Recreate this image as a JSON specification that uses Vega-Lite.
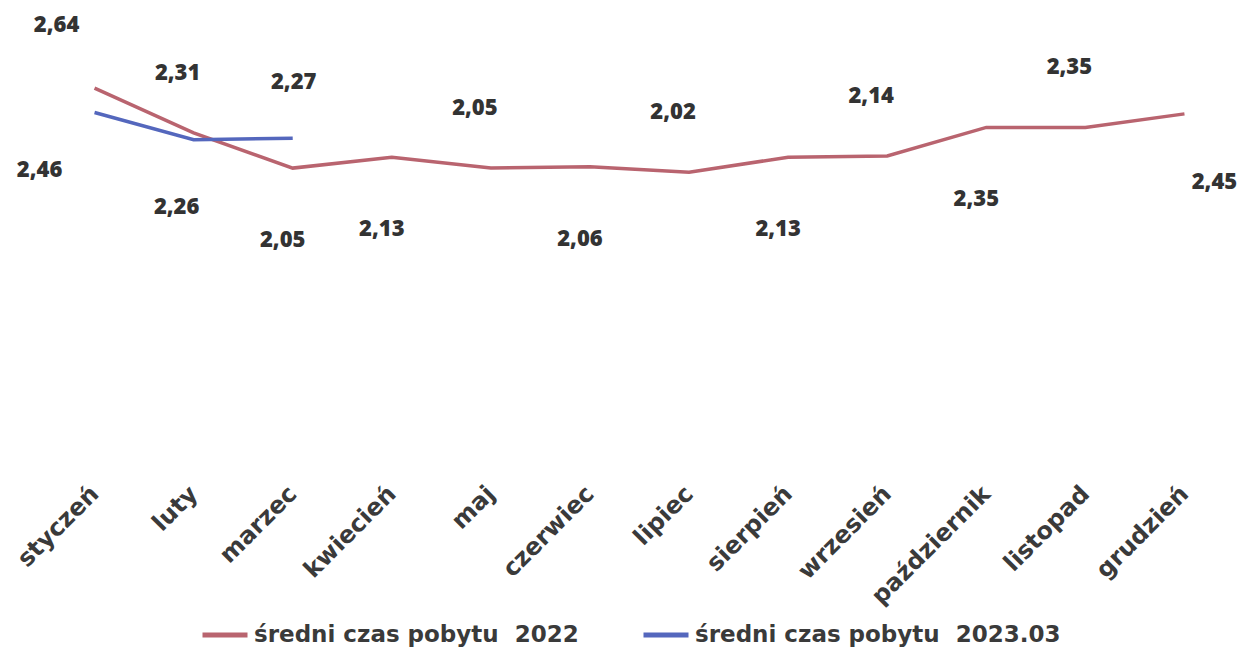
{
  "$schema": "https://vega.github.io/schema/vega-lite/v6.json",
  "autosize": {"type": "none"},
  "width": 1189,
  "height": 446,
  "padding": {"left": 45, "top": 0, "right": 18, "bottom": 205},
  "background": "white",
  "config": {
    "view": {"stroke": null},
    "text": {"font": "Open Sans", "fontWeight": 800, "fontSize": 22, "color": "#333333", "align": "center", "baseline": "middle"}
  },
  "data": {
    "values": [
      {"month": "styczeń", "series": "średni czas pobytu \u00a02022", "value": 2.64},
      {"month": "luty", "series": "średni czas pobytu \u00a02022", "value": 2.31},
      {"month": "marzec", "series": "średni czas pobytu \u00a02022", "value": 2.05},
      {"month": "kwiecień", "series": "średni czas pobytu \u00a02022", "value": 2.13},
      {"month": "maj", "series": "średni czas pobytu \u00a02022", "value": 2.05},
      {"month": "czerwiec", "series": "średni czas pobytu \u00a02022", "value": 2.06},
      {"month": "lipiec", "series": "średni czas pobytu \u00a02022", "value": 2.02},
      {"month": "sierpień", "series": "średni czas pobytu \u00a02022", "value": 2.13},
      {"month": "wrzesień", "series": "średni czas pobytu \u00a02022", "value": 2.14},
      {"month": "październik", "series": "średni czas pobytu \u00a02022", "value": 2.35},
      {"month": "listopad", "series": "średni czas pobytu \u00a02022", "value": 2.35},
      {"month": "grudzień", "series": "średni czas pobytu \u00a02022", "value": 2.45},
      {"month": "styczeń", "series": "średni czas pobytu \u00a02023.03", "value": 2.46},
      {"month": "luty", "series": "średni czas pobytu \u00a02023.03", "value": 2.26},
      {"month": "marzec", "series": "średni czas pobytu \u00a02023.03", "value": 2.27}
    ]
  },
  "encoding": {
    "x": {
      "field": "month", "type": "nominal",
      "sort": ["styczeń", "luty", "marzec", "kwiecień", "maj", "czerwiec", "lipiec", "sierpień", "wrzesień", "październik", "listopad", "grudzień"],
      "scale": {"type": "point", "padding": 0.5},
      "axis": {"title": null, "domain": false, "ticks": false, "grid": false, "labelAngle": -45, "labelAlign": "right", "labelBaseline": "middle", "labelPadding": 44, "labelFont": "DejaVu Sans", "labelFontWeight": "bold", "labelFontSize": 24, "labelColor": "#3a3a3a"}
    },
    "y": {"field": "value", "type": "quantitative", "scale": {"domain": [0, 3.29], "nice": false, "zero": false}, "axis": null}
  },
  "layer": [
    {
      "mark": {"type": "line", "strokeWidth": 3.5},
      "encoding": {
        "color": {
          "field": "series", "type": "nominal",
          "scale": {"domain": ["średni czas pobytu \u00a02022", "średni czas pobytu \u00a02023.03"], "range": ["#b9646f", "#5467bd"]},
          "legend": {"title": null, "orient": "none", "legendX": 155, "legendY": 610, "direction": "horizontal", "symbolType": "stroke", "symbolSize": 2025, "symbolStrokeWidth": 5, "labelFont": "DejaVu Sans", "labelFontWeight": "bold", "labelFontSize": 23, "labelColor": "#3a3a3a", "columnPadding": 54, "labelOffset": 4, "labelLimit": 500}
        }
      }
    },
    {
      "transform": [{"filter": {"and": [{"field": "series", "equal": "średni czas pobytu \u00a02022"}, {"field": "month", "oneOf": ["luty", "maj", "lipiec", "wrzesień", "listopad"]}]}}],
      "mark": {"type": "text", "dx": -16, "dy": -60},
      "encoding": {"text": {"field": "value", "type": "quantitative", "format": ".2f"}}
    },
    {
      "transform": [{"filter": {"and": [{"field": "series", "equal": "średni czas pobytu \u00a02022"}, {"field": "month", "oneOf": ["marzec", "kwiecień", "czerwiec", "sierpień", "październik"]}]}}],
      "mark": {"type": "text", "dx": -10, "dy": 72},
      "encoding": {"text": {"field": "value", "type": "quantitative", "format": ".2f"}}
    },
    {
      "transform": [{"filter": {"and": [{"field": "series", "equal": "średni czas pobytu \u00a02022"}, {"field": "month", "equal": "styczeń"}]}}],
      "mark": {"type": "text", "dx": -38, "dy": -63},
      "encoding": {"text": {"field": "value", "type": "quantitative", "format": ".2f"}}
    },
    {
      "transform": [{"filter": {"and": [{"field": "series", "equal": "średni czas pobytu \u00a02022"}, {"field": "month", "equal": "grudzień"}]}}],
      "mark": {"type": "text", "dx": 30, "dy": 68},
      "encoding": {"text": {"field": "value", "type": "quantitative", "format": ".2f"}}
    },
    {
      "transform": [{"filter": {"and": [{"field": "series", "equal": "średni czas pobytu \u00a02023.03"}, {"field": "month", "equal": "styczeń"}]}}],
      "mark": {"type": "text", "dx": -55, "dy": 57},
      "encoding": {"text": {"field": "value", "type": "quantitative", "format": ".2f"}}
    },
    {
      "transform": [{"filter": {"and": [{"field": "series", "equal": "średni czas pobytu \u00a02023.03"}, {"field": "month", "equal": "luty"}]}}],
      "mark": {"type": "text", "dx": -17, "dy": 67},
      "encoding": {"text": {"field": "value", "type": "quantitative", "format": ".2f"}}
    },
    {
      "transform": [{"filter": {"and": [{"field": "series", "equal": "średni czas pobytu \u00a02023.03"}, {"field": "month", "equal": "marzec"}]}}],
      "mark": {"type": "text", "dx": 1, "dy": -56},
      "encoding": {"text": {"field": "value", "type": "quantitative", "format": ".2f"}}
    }
  ],
  "usermeta": {"embedOptions": {"formatLocale": {"decimal": ",", "thousands": " ", "grouping": [3], "currency": ["", " zł"]}}}
}
